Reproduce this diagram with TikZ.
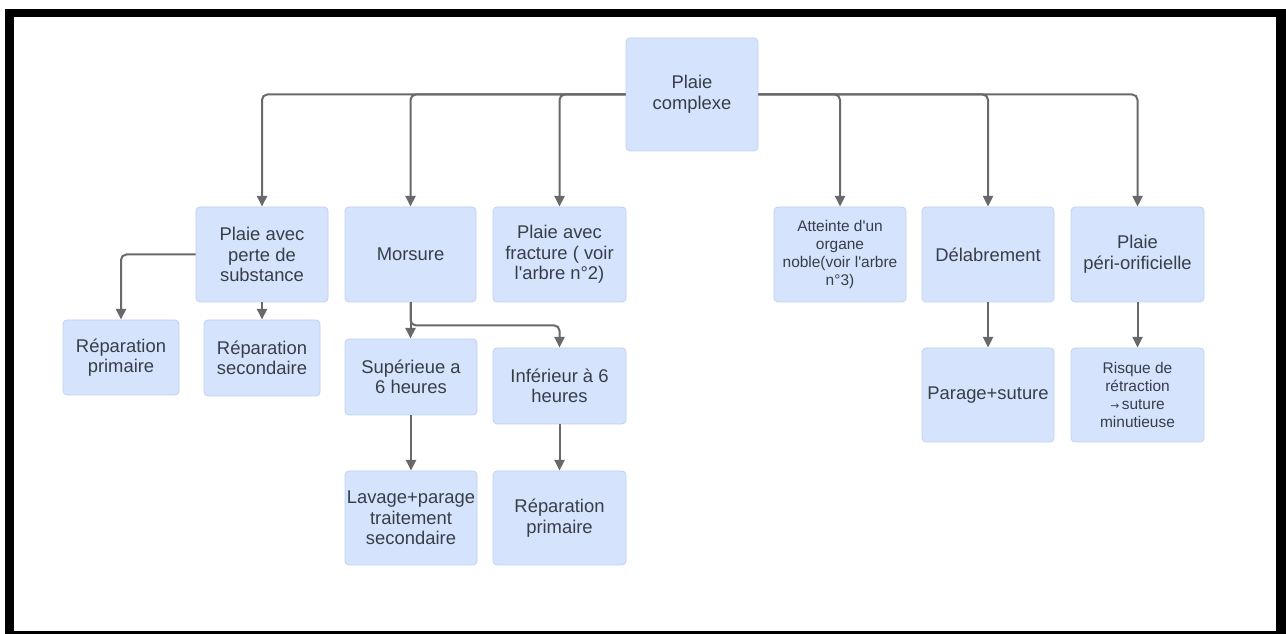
\documentclass[tikz,border=0pt]{standalone}
\usepackage{fontspec}
\setmainfont{Liberation Sans}
\newfontfamily\symfont{DejaVu Sans}
\usetikzlibrary{arrows.meta}
\definecolor{boxfill}{RGB}{213,227,252}
\definecolor{boxline}{RGB}{192,210,240}
\definecolor{txt}{RGB}{55,62,72}
\definecolor{linecol}{RGB}{105,105,108}
\newcommand{\apos}{\textquotesingle}
\begin{document}
\begin{tikzpicture}[x=0.75pt,y=-0.75pt,
  box/.style={draw=boxline,line width=0.6pt,fill=boxfill,rounded corners=3pt,
    align=center,text=txt,inner sep=1pt,
    font=\fontsize{13.8}{15.4}\selectfont},
  smallbox/.style={box,font=\fontsize{11.6}{13.6}\selectfont},
  conn/.style={draw=linecol,line width=1.5pt,rounded corners=4pt,
    -{Triangle[length=8pt,width=7.5pt]}}]
\useasboundingbox (0,0) rectangle (1286,634);
\fill[white] (0,0) rectangle (1286,634);
% frame
\fill[black] (5,9) rectangle (1286,17);
\fill[black] (5,9) rectangle (14,634);
\fill[black] (1276,9) rectangle (1286,634);
\fill[black] (5,631) rectangle (1286,634);
% nodes
\node[box,minimum width=99pt,minimum height=84.75pt] (root) at (692,94.5) {Plaie\\complexe};
\node[box,minimum width=99pt,minimum height=71.25pt] (perte) at (262,254.5) {Plaie avec\\perte de\\substance};
\node[box,minimum width=98.25pt,minimum height=71.25pt] (morsure) at (410.5,254.5) {Morsure};
\node[box,minimum width=99.75pt,minimum height=71.25pt] (fracture) at (559.5,254.5) {Plaie avec\\fracture ( voir\\l\apos arbre n°2)};
\node[smallbox,minimum width=99pt,minimum height=71.25pt] (organe) at (840,254.5) {Atteinte d\apos un\\organe\\noble(voir l\apos arbre\\n°3)};
\node[box,minimum width=99pt,minimum height=71.25pt] (delab) at (988,254.5) {Délabrement};
\node[box,minimum width=99.75pt,minimum height=71.25pt] (peri) at (1137.5,254.5) {Plaie\\péri-orificielle};
\node[box,minimum width=87pt,minimum height=56.25pt] (rp1) at (121,357.5) {Réparation\\primaire};
\node[box,minimum width=87pt,minimum height=57pt] (rs) at (262,358) {Réparation\\secondaire};
\node[box,minimum width=99pt,minimum height=57pt] (sup) at (411,377) {Supérieue a\\6 heures};
\node[box,minimum width=99.75pt,minimum height=57pt] (inf) at (559.5,386) {Inférieur à 6\\heures};
\node[box,minimum width=99pt,minimum height=70.5pt] (parage) at (988,395) {Parage+suture};
\node[smallbox,minimum width=99.75pt,minimum height=70.5pt] (risque) at (1137.5,395) {Risque de\\rétraction\\{\symfont\fontsize{8}{10}\selectfont →}\,suture\\minutieuse};
\node[box,minimum width=99pt,minimum height=70.5pt] (lavage) at (411,518) {Lavage+parage\\traitement\\secondaire};
\node[box,minimum width=99.75pt,minimum height=70.5pt] (rp2) at (559.5,518) {Réparation\\primaire};
% connectors
\draw[conn] (root.west) -| (perte.north);
\draw[conn] (root.west) -| (morsure.north);
\draw[conn] (root.west) -| (fracture.north);
\draw[conn] (root.east) -| (organe.north);
\draw[conn] (root.east) -| (delab.north);
\draw[conn] (root.east) -| (peri.north);
\draw[conn] (perte.west) -| (rp1.north);
\draw[conn] (perte.south) -- (rs.north);
\draw[conn] (morsure.south) -- (morsure.south |- sup.north);
\draw[conn] (morsure.south) -- ++(0,23) -| (inf.north);
\draw[conn] (sup.south) -- (sup.south |- lavage.north);
\draw[conn] (inf.south) -- (rp2.north);
\draw[conn] (delab.south) -- (parage.north);
\draw[conn] (peri.south) -- (risque.north);
\end{tikzpicture}
\end{document}
